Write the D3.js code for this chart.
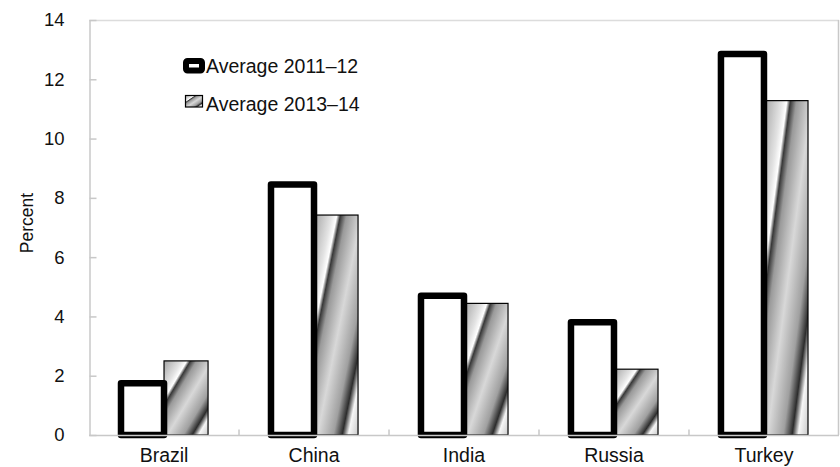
<!DOCTYPE html>
<html>
<head>
<meta charset="utf-8">
<script src="https://cdn.jsdelivr.net/npm/d3@7"></script>
<style>
  html, body { margin: 0; padding: 0; background: #fff; }
  svg { display: block; font-family: "Liberation Sans", Arial, sans-serif; }
</style>
</head>
<body>
<svg id="chart" width="840" height="467"></svg>
<script>
// Data
const categories = ["Brazil", "China", "India", "Russia", "Turkey"];
const seriesNames = ["Average 2011\u201312", "Average 2013\u201314"];
const avg2011_12 = [1.75, 8.45, 4.7, 3.8, 12.85];
const avg2013_14 = [2.5, 7.42, 4.44, 2.22, 11.28];
const yTicks = [0, 2, 4, 6, 8, 10, 12, 14];

const svg = d3.select("#chart");
const W = 840, H = 467;
const plot = { left: 89, right: 839, top: 20, bottom: 435 };

svg.append("rect").attr("width", W).attr("height", H).attr("fill", "#fff");

// Metallic diagonal gradient for the second series
const defs = svg.append("defs");
const grad = defs.append("linearGradient")
  .attr("id", "metal")
  .attr("x1", 0).attr("y1", 0).attr("x2", 1).attr("y2", 1);
[
  [0.00, "#a4a4a4"],
  [0.20, "#e4e4e4"],
  [0.26, "#ffffff"],
  [0.30, "#383838"],
  [0.37, "#9a9a9a"],
  [0.54, "#d8d8d8"],
  [0.72, "#a0a0a0"],
  [0.82, "#2c2c2c"],
  [0.89, "#f6f6f6"],
  [1.00, "#cacaca"]
].forEach(([o, c]) => grad.append("stop").attr("offset", o).attr("stop-color", c));

// Scales
const y = d3.scaleLinear().domain([0, 14]).range([plot.bottom, plot.top]);
const x0 = d3.scaleBand().domain(categories).range([plot.left, plot.right])
  .paddingInner(0.413).paddingOuter(0.2067);
const x1 = d3.scaleBand().domain(seriesNames).range([0, x0.bandwidth()]).padding(0);

const frameColor = "#c8c8c8";

// Plot frame (top and right)
svg.append("line").attr("x1", plot.left).attr("x2", plot.right)
  .attr("y1", plot.top + 0.5).attr("y2", plot.top + 0.5)
  .attr("stroke", "#dcdcdc").attr("stroke-width", 1.5);
svg.append("line").attr("x1", plot.right - 0.5).attr("x2", plot.right - 0.5)
  .attr("y1", plot.top).attr("y2", plot.bottom)
  .attr("stroke", frameColor).attr("stroke-width", 1.5);

// Y axis
const yAxis = d3.axisLeft(y).tickValues(yTicks).tickFormat(d3.format("d"))
  .tickSizeInner(-7).tickSizeOuter(0).tickPadding(25);
const gy = svg.append("g").attr("transform", `translate(${plot.left + 0.5},0)`).call(yAxis);
gy.select(".domain").attr("stroke", frameColor).attr("stroke-width", 1.5);
gy.selectAll(".tick line").attr("stroke", frameColor).attr("stroke-width", 1.5);
gy.selectAll(".tick text").attr("font-size", 18.5).attr("fill", "#111")
  .attr("font-family", "Liberation Sans, Arial, sans-serif");

// Y axis title
svg.append("text")
  .attr("transform", "translate(33,223) rotate(-90)")
  .attr("text-anchor", "middle")
  .attr("font-family", "Liberation Sans Narrow, Liberation Sans, Arial, sans-serif")
  .attr("font-size", 17.5)
  .attr("fill", "#111")
  .text("Percent");

// Bars
const groups = svg.append("g").selectAll("g")
  .data(categories.map((c, i) => ({ c, vals: [avg2011_12[i], avg2013_14[i]] })))
  .join("g")
  .attr("transform", d => `translate(${x0(d.c)},0)`);

// Second series first so the thick outlined bar sits on top of its neighbour edge
groups.append("rect")
  .attr("x", x1(seriesNames[1]))
  .attr("y", d => y(d.vals[1]))
  .attr("width", x1.bandwidth())
  .attr("height", d => y(0) - y(d.vals[1]))
  .attr("fill", "url(#metal)")
  .attr("stroke", "#000")
  .attr("stroke-width", 1.2);

groups.append("rect")
  .attr("x", x1(seriesNames[0]) + 1)
  .attr("y", d => y(d.vals[0]))
  .attr("width", x1.bandwidth() - 1)
  .attr("height", d => y(0) - y(d.vals[0]))
  .attr("fill", "#fff")
  .attr("stroke", "#000")
  .attr("stroke-width", 6.5)
  .attr("stroke-linejoin", "round");

// X axis baseline and category separators
const gx = svg.append("g").attr("transform", `translate(0,${plot.bottom + 0.5})`);
gx.append("line").attr("x1", plot.left).attr("x2", plot.right)
  .attr("stroke", frameColor).attr("stroke-width", 1.5);
const gap = x0.step() - x0.bandwidth();
const seps = categories.slice(1).map(c => x0(c) - gap / 2);
gx.selectAll("line.sep").data(seps).join("line").attr("class", "sep")
  .attr("x1", d => d).attr("x2", d => d).attr("y1", 0).attr("y2", -6)
  .attr("stroke", frameColor).attr("stroke-width", 1.5);

// Category labels
const xAxis = d3.axisBottom(x0).tickSize(0).tickPadding(13);
const gl = svg.append("g").attr("transform", `translate(0,${plot.bottom})`).call(xAxis);
gl.select(".domain").remove();
gl.selectAll(".tick text").attr("font-size", 19.5).attr("fill", "#111")
  .attr("font-family", "Liberation Sans, Arial, sans-serif");

// Legend
const legend = svg.append("g");
legend.append("rect")
  .attr("x", 186).attr("y", 61).attr("width", 16).attr("height", 9.5)
  .attr("rx", 1.5)
  .attr("fill", "#fff").attr("stroke", "#000").attr("stroke-width", 6)
  .attr("stroke-linejoin", "round");
legend.append("text")
  .attr("x", 206).attr("y", 73)
  .attr("font-size", 19.5).attr("fill", "#111")
  .text(seriesNames[0]);
legend.append("rect")
  .attr("x", 185.5).attr("y", 95.5).attr("width", 17).attr("height", 11.5)
  .attr("fill", "url(#metal)").attr("stroke", "#000").attr("stroke-width", 1.2);
legend.append("text")
  .attr("x", 206).attr("y", 111)
  .attr("font-size", 19.5).attr("fill", "#111")
  .text(seriesNames[1]);
</script>
</body>
</html>
